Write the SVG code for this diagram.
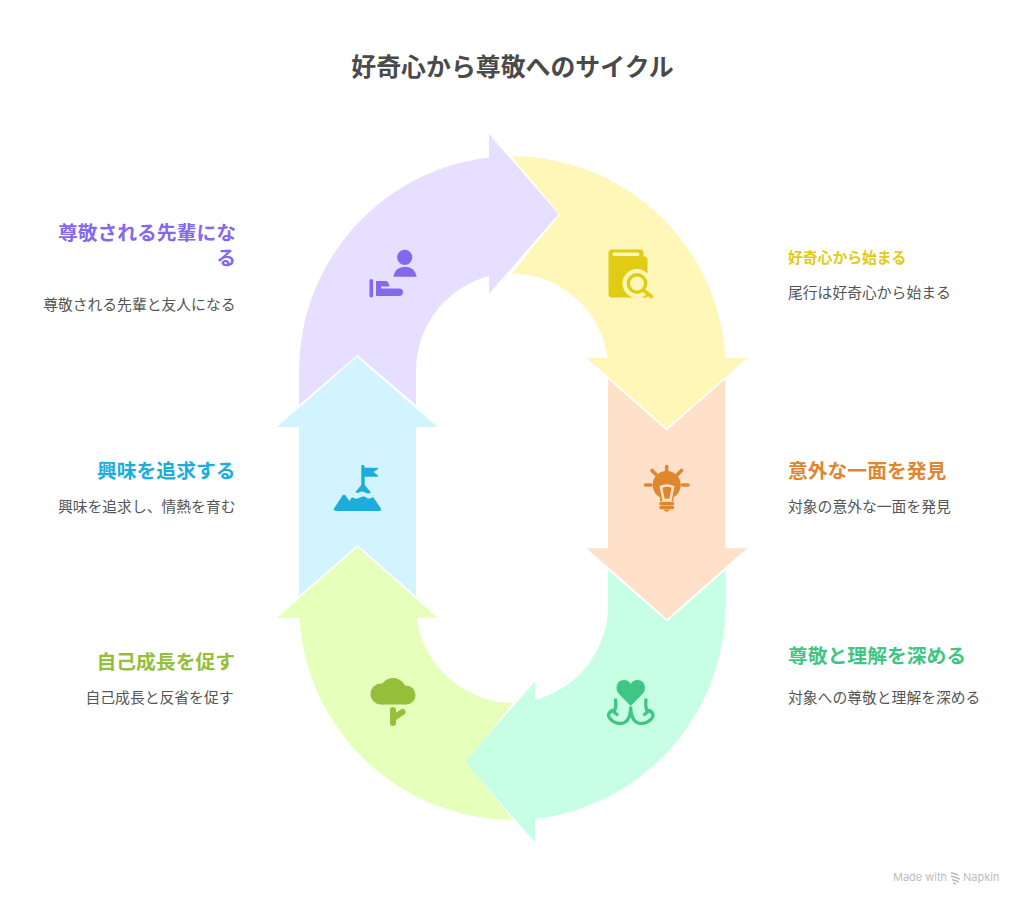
<svg xmlns="http://www.w3.org/2000/svg" width="1024" height="905" viewBox="0 0 1024 905">
<style>
text{font-family:"Noto Sans CJK JP","Noto Sans",sans-serif}
.title{font-size:24.9px;font-weight:700;fill:#4a4a4a;text-anchor:middle}
.h{font-size:19.8px;font-weight:700}
.d{font-size:14.8px;fill:#555}
.r{text-anchor:end}
.wm{font-family:"Inter","Noto Sans",sans-serif;font-size:11px;fill:#bdbdbd}
</style>
<rect width="1024" height="905" fill="#fff"/>
<text class="title" x="512.5" y="76">好奇心から尊敬へのサイクル</text>

<g id="node-curiosity">
<path fill="#FFF7B8" d="M511.5 156A215 215 0 0 1 725.6 358H747.3L666.7 428.3 586.7 358H607.7A97.5 97.5 0 0 0 511.5 273.5L559.8 214.5Z"/>
<g fill="#E0CB15">
<path fill-rule="evenodd" d="M612 249.5H640Q643.5 249.5 643.5 253V256.5H644Q647.5 256.5 647.5 260V297.5H612Q608.5 297.5 608.5 294V253Q608.5 249.5 612 249.5ZM614 252.5Q612.5 252.5 612.5 254.3 612.5 256 614 256H638Q639.5 256 639.5 254.3 639.5 252.5 638 252.5Z"/>
<circle cx="637" cy="283.5" r="14.5" fill="#FFF7B8"/>
<circle cx="637" cy="283.5" r="8.7" fill="#FFF7B8" stroke="#E0CB15" stroke-width="3.4"/>
<path d="M644.5 291L651.5 296.5" fill="none" stroke="#E0CB15" stroke-width="3.6" stroke-linecap="round"/>
</g>
<text class="h" style="font-size:14.8px;fill:#E0CB15" x="788" y="263">好奇心から始まる</text>
<text class="d" x="788" y="298">尾行は好奇心から始まる</text>
</g>

<g id="node-aspect">
<path fill="#FFE1CA" d="M608 379L666.7 430.5 725.5 379V548.3H747L667 619 586.5 548.3H608Z"/>
<g fill="#E0862F">
<circle cx="666.7" cy="485" r="14"/>
<path d="M660 495H673.5V501H660Z"/>
<path d="M661 487Q667 484 673 487L670.5 500H663.5Z" fill="none" stroke="#FFE1CA" stroke-width="2.6"/>
<path d="M666.7 466.5V472M652 470.5L656 474.5M681.5 470.5L677.5 474.5M645.5 485H651M682.5 485H688M661 503.5H672.5M661 507.5H672.5" fill="none" stroke="#E0862F" stroke-width="3.6" stroke-linecap="round"/>
<path d="M663 509.5H670.5L666.7 512Z"/>
</g>
<text class="h" x="788" y="478" fill="#E0862F">意外な一面を発見</text>
<text class="d" x="788" y="512">対象の意外な一面を発見</text>
</g>

<g id="node-respect">
<path fill="#C7FFE4" d="M608 570L667 621.5 725.5 570V605A215.5 215.5 0 0 1 535 819V842.3L464.5 762 535 681.5V700A98 98 0 0 0 608 605Z"/>
<path fill="#3FC684" d="M630.7 706L619 694Q616 690.5 616.5 687 617.5 680 624 680 628.5 680 630.7 684 633 680 637.5 680 644 680 645 687 645.5 690.5 642.5 694Z"/>
<path fill="none" stroke="#3FC684" stroke-width="3.4" stroke-linecap="round" stroke-linejoin="round" d="M615.5 700Q616.5 706 614.5 711M617 714.5L612 710.5Q606.5 714 609.5 718 614 723.5 620 723.5 630 723.5 630.7 708M645.9 700Q645 706 647 711M644.5 714.5L649.5 710.5Q655 714 652 718 647.5 723.5 641.5 723.5 631.5 723.5 630.7 708"/>
<text class="h" x="788" y="663" fill="#3FC684">尊敬と理解を深める</text>
<text class="d" x="788" y="703">対象への尊敬と理解を深める</text>
</g>

<g id="node-growth">
<path fill="#E6FFBA" d="M513 820A215 215 0 0 1 299.4 617.7H277L357.5 547 437.5 617.7H416.8A98 98 0 0 0 513 703L466 762Z"/>
<g fill="#94BF3A">
<circle cx="381" cy="694" r="10.5"/>
<circle cx="393" cy="691" r="13"/>
<circle cx="406" cy="695" r="9.5"/>
<path d="M381 698H406V704.5H381Z"/>
<path d="M393 710V723M393.5 718L402.5 712" fill="none" stroke="#94BF3A" stroke-width="6" stroke-linecap="round"/>
</g>
<text class="h r" x="235" y="669" fill="#94BF3A">自己成長を促す</text>
<text class="d r" x="233.5" y="703">自己成長と反省を促す</text>
</g>

<g id="node-interest">
<path fill="#D1F4FF" d="M299 596V427H277L357 357 437.5 427H416V596L357.5 545Z"/>
<g fill="#1CADDD">
<path d="M361.3 466Q361.3 465 362.5 465H363.5Q364.7 465 364.7 467.7H377Q378.5 467.700 378 469L373.7 472 378 475.5Q378.5 476.7 377 476.7H364.7V485L371 492.5Q368 494.5 365 492.5 362 490.5 359 492.5 357.5 493.5 355.5 492L361.3 485Z"/>
<path d="M334 508.5L342.5 495.5Q344 494 345.5 495.5L349.5 501 352 497Q356 500 360 497.500 364 495.5 367 498 370 499.5 373 497L381 508.5Q381.5 511 379 511H336Q333 511 334 508.5Z"/>
</g>
<text class="h r" x="235.5" y="478" fill="#1CADDD">興味を追求する</text>
<text class="d r" x="235.5" y="512">興味を追求し、情熱を育む</text>
</g>

<g id="node-senior">
<path fill="#E6DFFF" d="M299 405V371A215 215 0 0 1 489 157.5V134L558.5 214 489 294V276A98 98 0 0 0 416 371V405L357.5 355Z"/>
<g fill="#8468ED">
<circle cx="404.7" cy="257.3" r="7.6"/>
<path d="M393.3 276.700Q395 266.7 405 266.7 415 266.7 416.7 276.7Z"/>
<rect x="369.5" y="279" width="3.6" height="18.5" rx="1.8"/>
<path d="M376 281H385Q389 281 389.3 286.5H381V288.5H400Q403 289 403 292.3 403 296 399 296H376Z"/>
</g>
<text class="h r" fill="#8468ED"><tspan x="236" y="240">尊敬される先輩にな</tspan><tspan x="236" y="265">る</tspan></text>
<text class="d r" x="235.5" y="310">尊敬される先輩と友人になる</text>
</g>

<g id="watermark">
<text class="wm" x="893" y="881">Made with</text>
<path d="M951 872.5L958 875M951 876L960 879M952 879.5L959 882M953 883L956 884" fill="none" stroke="#bdbdbd" stroke-width="1.6"/>
<text class="wm" x="963" y="881">Napkin</text>
</g>
</svg>
